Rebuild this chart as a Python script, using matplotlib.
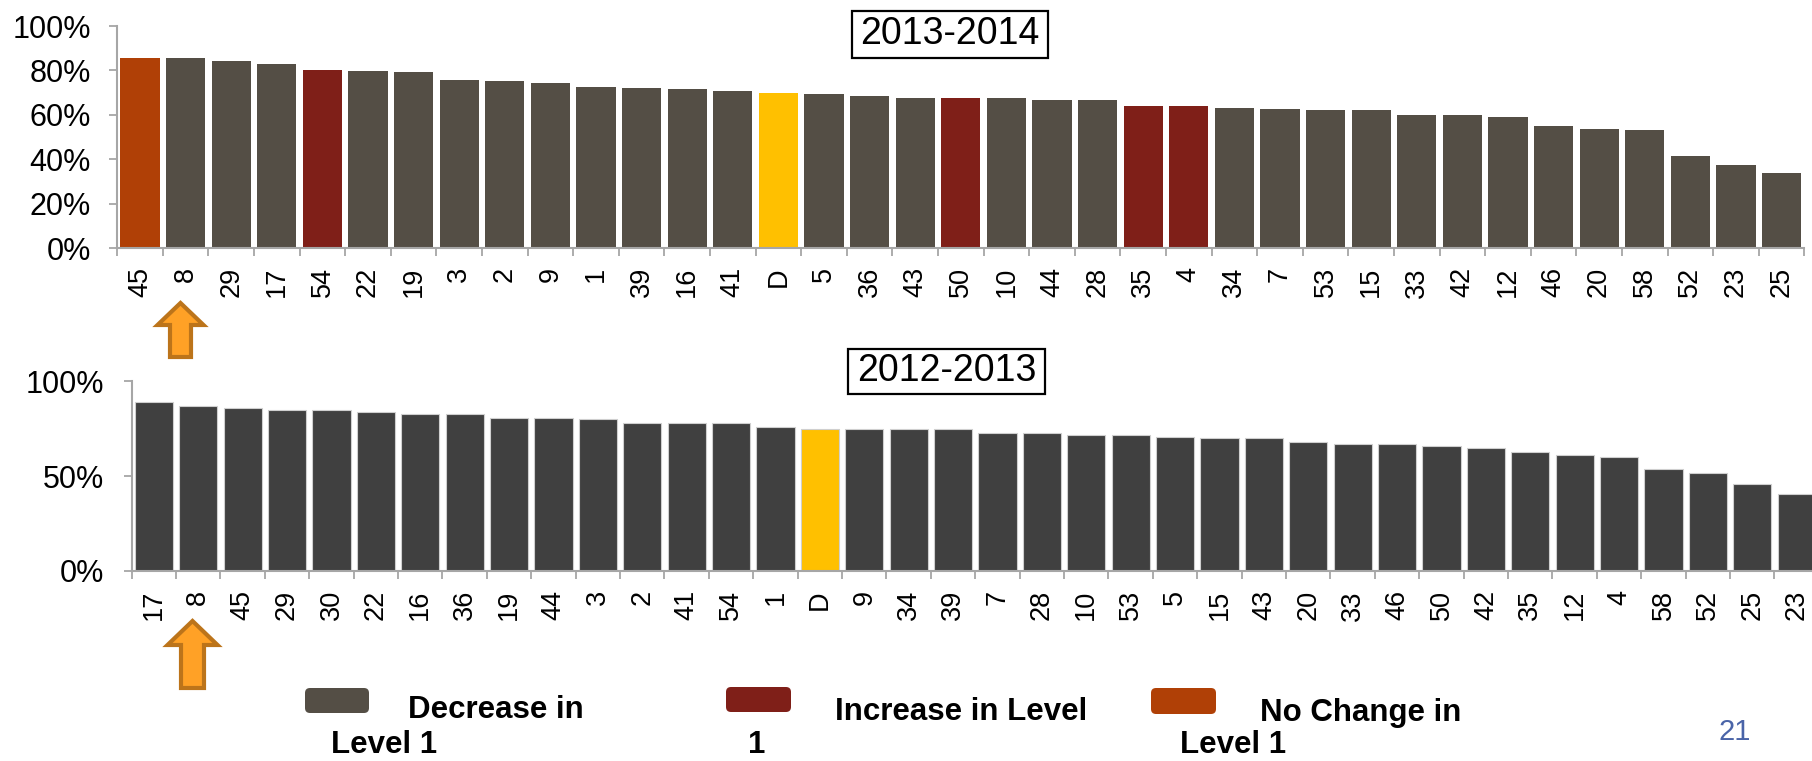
import matplotlib
matplotlib.use("Agg")
import matplotlib.pyplot as plt
from matplotlib.patches import Rectangle, Polygon, FancyBboxPatch
from matplotlib.ticker import FixedLocator, FuncFormatter
from matplotlib.transforms import IdentityTransform

plt.rcParams['font.family'] = ['Liberation Sans', 'DejaVu Sans']

# 2013-2014 (sorted high to low)
top_labels = ['45', '8', '29', '17', '54', '22', '19', '3', '2', '9', '1', '39', '16', '41', 'D',
              '5', '36', '43', '50', '10', '44', '28', '35', '4', '34', '7', '53', '15', '33', '42',
              '12', '46', '20', '58', '52', '23', '25']
top_values = [85.6, 85.6, 84.3, 82.9, 80.2, 79.8, 79.3, 75.7, 75.3, 74.4, 72.6, 72.2, 71.7, 70.8, 69.9,
              69.5, 68.6, 67.7, 67.7, 67.7, 66.8, 66.8, 64.1, 64.1, 63.2, 62.7, 62.3, 62.3, 60.0, 60.0,
              59.1, 55.1, 53.7, 53.3, 41.4, 37.4, 33.8]
increase = ['54', '50', '35', '4']
no_change = ['45']

# 2012-2013
bot_labels = ['17', '8', '45', '29', '30', '22', '16', '36', '19', '44', '3', '2', '41', '54', '1', 'D',
              '9', '34', '39', '7', '28', '10', '53', '5', '15', '43', '20', '33', '46', '50', '42', '35',
              '12', '4', '58', '52', '25', '23']
bot_values = [89.0, 86.9, 86.0, 84.9, 84.9, 83.9, 83.0, 83.0, 80.9, 80.9, 79.9, 77.9, 77.9, 77.9, 75.8, 74.8,
              74.8, 74.8, 74.8, 72.9, 72.9, 71.8, 71.8, 70.9, 69.9, 69.9, 68.0, 66.7, 66.7, 66.0, 65.0, 62.9,
              60.9, 59.9, 53.7, 51.7, 45.8, 40.8]

legend_items = [('Decrease in', 'Level 1'), ('Increase in Level', '1'), ('No Change in', 'Level 1')]

C_DEC = '#544E45'
C_INC = '#7F1F18'
C_SAME = '#B04006'
C_DIST = '#FFC000'
C_BOT = '#404040'
C_AXIS = '#A6A6A6'

W, H = 1812, 761
fig = plt.figure(figsize=(W / 100, H / 100), dpi=100)


def box(left, right, top, bottom):
    # pixel box (y from top) -> figure fractions
    return [left / W, 1 - bottom / H, (right - left) / W, (bottom - top) / H]


def style_axis(ax, labels, yticks, ypad, xpad):
    n = len(labels)
    ax.set_xlim(-0.5, n - 0.5)
    ax.set_ylim(0, 100)
    for s in ['top', 'right']:
        ax.spines[s].set_visible(False)
    for s in ['left', 'bottom']:
        ax.spines[s].set_color(C_AXIS)
        ax.spines[s].set_linewidth(1.5)
    ax.set_xticks(range(n))
    ax.set_xticklabels(labels, rotation=90, fontsize=19.5)
    ax.xaxis.set_minor_locator(FixedLocator([i - 0.5 for i in range(n + 1)]))
    ax.tick_params(axis='x', which='major', length=0, pad=xpad)
    ax.tick_params(axis='x', which='minor', length=6, width=1.3, color=C_AXIS)
    ax.set_yticks(yticks)
    ax.yaxis.set_major_formatter(FuncFormatter(lambda v, p: f'{v:.0f}%'))
    ax.tick_params(axis='y', length=6, width=1.3, color=C_AXIS, labelsize=22, pad=ypad)


# top chart
ax1 = fig.add_axes(box(117.3, 1804.3, 26, 248.3))
top_colors = []
for lab in top_labels:
    if lab == 'D':
        top_colors.append(C_DIST)
    elif lab in increase:
        top_colors.append(C_INC)
    elif lab in no_change:
        top_colors.append(C_SAME)
    else:
        top_colors.append(C_DEC)
ax1.bar(range(len(top_values)), top_values, width=0.86, color=top_colors, zorder=2)
style_axis(ax1, top_labels, [0, 20, 40, 60, 80, 100], 13, 13.5)

# bottom chart
ax2 = fig.add_axes(box(131.7, 131.7 + 38 * 44.4, 381.3, 571))
bot_colors = [C_DIST if lab == 'D' else C_BOT for lab in bot_labels]
ax2.bar(range(len(bot_values)), bot_values, width=0.86, color=bot_colors,
        edgecolor='#CFCFCF', linewidth=0.8, zorder=2)
style_axis(ax2, bot_labels, [0, 50, 100], 14, 13.7)

# title boxes
for (l, r, t, b), txt in [((852, 1048, 11, 58), '2013-2014'), ((848, 1045, 349, 394), '2012-2013')]:
    fig.patches.append(Rectangle((l / W, 1 - b / H), (r - l) / W, (b - t) / H,
                                 transform=fig.transFigure, fc='white', ec='black', lw=1.6))
    fig.text((l + r) / 2 / W, 1 - (t + b) / 2 / H, txt, ha='center', va='center', fontsize=27)


# orange arrows pointing at district 8
def up_arrow(cx, tip, head_base, bottom, head_half, shaft_half):
    pts = [(cx, tip), (cx + head_half, head_base), (cx + shaft_half, head_base),
           (cx + shaft_half, bottom), (cx - shaft_half, bottom), (cx - shaft_half, head_base),
           (cx - head_half, head_base)]
    pts = [(x / W, 1 - y / H) for x, y in pts]
    fig.patches.append(Polygon(pts, closed=True, transform=fig.transFigure,
                               fc='#FFA126', ec='#BC741A', lw=3, joinstyle='miter'))


up_arrow(180.5, 303, 325, 357, 23, 10.5)
up_arrow(192.5, 621, 645, 688, 25, 11.5)

# legend
sw_boxes = [(305, 369, 688, 713, C_DEC), (726, 791, 687, 712, C_INC), (1151, 1216, 688, 714, C_SAME)]
for l, r, t, b, c in sw_boxes:
    fig.patches.append(FancyBboxPatch((l, H - b), r - l, b - t, boxstyle='round,pad=0,rounding_size=5',
                                      transform=IdentityTransform(), fc=c, ec='none'))

text_pos = [((408, 718), (331, 753)), ((835, 720), (748, 753)), ((1260, 721.5), (1180, 753))]
for (l1, l2), (p1, p2) in zip(legend_items, text_pos):
    fig.text(p1[0] / W, 1 - p1[1] / H, l1, ha='left', va='baseline', fontsize=22.5, fontweight='bold')
    fig.text(p2[0] / W, 1 - p2[1] / H, l2, ha='left', va='baseline', fontsize=22.5, fontweight='bold')

fig.text(1718 / W, 1 - 740 / H, '21', ha='left', va='baseline', fontsize=21, color='#4A64A8')

fig.savefig('out.png', dpi=100)
